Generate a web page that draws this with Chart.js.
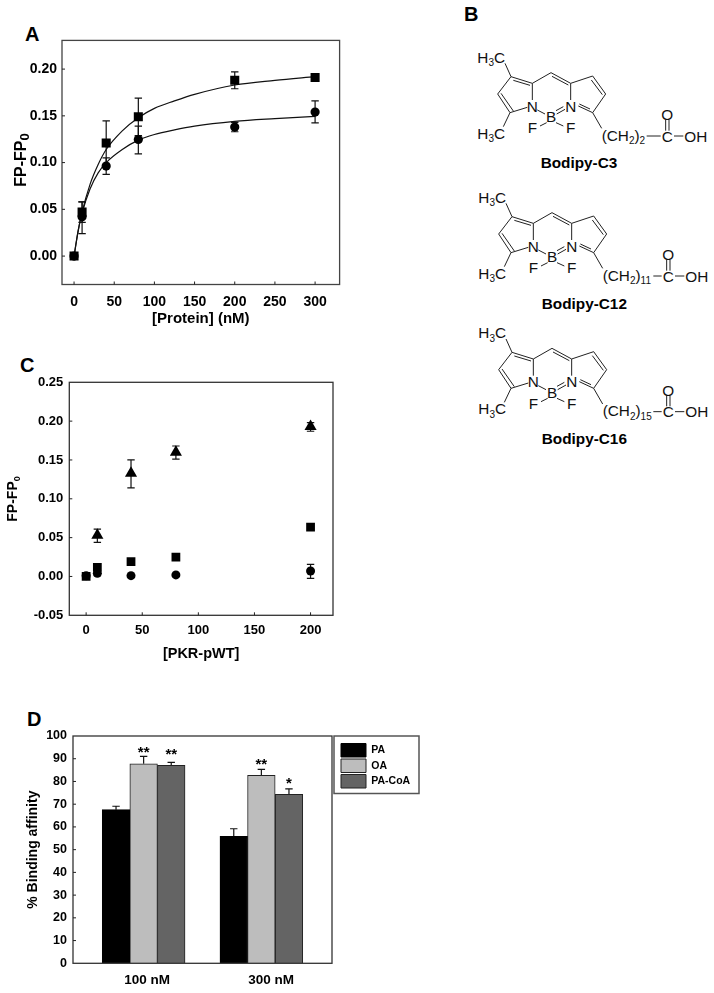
<!DOCTYPE html>
<html><head><meta charset="utf-8">
<script src="https://cdn.jsdelivr.net/npm/chart.js@4/dist/chart.umd.min.js"></script>
<style>
html,body{margin:0;padding:0;background:#fff;width:714px;height:993px;overflow:hidden}
canvas{position:absolute}
.letter{position:absolute;font:bold 20px "Liberation Sans",Arial,sans-serif;color:#000;line-height:20px}
svg{position:absolute;left:450px;top:0}
</style></head><body>
<div class="letter" style="left:25px;top:24px">A</div>
<div class="letter" style="left:464px;top:4px">B</div>
<div class="letter" style="left:20px;top:355px">C</div>
<div class="letter" style="left:27px;top:709px">D</div>
<canvas id="a" width="336" height="294" style="left:10px;top:34px"></canvas>
<canvas id="c" width="336" height="291" style="left:4px;top:372px"></canvas>
<canvas id="d" width="400" height="267" style="left:25px;top:726px"></canvas>
<svg id="mol" width="264" height="470" viewBox="0 0 792 1410"></svg>
<script>
// Panel A
const aX = [0, 10, 40, 80, 200, 300];
const aSquare = [0, 0.047, 0.121, 0.149, 0.188, 0.191];
const aSquareHi = [0, 0.058, 0.1446, 0.169, 0.197, 0.191];
const aSquareLo = [0, 0.036, 0.0975, 0.129, 0.179, 0.191];
const aCircle = [0, 0.042, 0.0963, 0.1247, 0.138, 0.154];
const aCircleHi = [0, 0.058, 0.105, 0.139, 0.143, 0.166];
const aCircleLo = [0, 0.024, 0.0874, 0.1094, 0.133, 0.1425];
const aCurveX = [0, 5, 10, 20, 30, 40, 60, 80, 100, 125, 150, 200, 250, 300];
const aCurveSquare = [0, 0.026, 0.047, 0.077, 0.098, 0.114, 0.134, 0.148, 0.158, 0.166, 0.173, 0.183, 0.188, 0.192];
const aCurveCircle = [0, 0.027, 0.046, 0.072, 0.089, 0.100, 0.114, 0.124, 0.130, 0.135, 0.139, 0.144, 0.147, 0.1495];
const aXTicks = [0, 50, 100, 150, 200, 250, 300];
const aYTicks = [0, 0.05, 0.10, 0.15, 0.20];
// Panel C
const cX = [0, 10, 40, 80, 200];
const cTriangleX = [10, 40, 80, 200];
const cTriangle = [0.053, 0.133, 0.160, 0.193];
const cTriangleHi = [0.061, 0.150, 0.168, 0.198];
const cTriangleLo = [0.044, 0.114, 0.151, 0.187];
const cSquare = [0, 0.0116, 0.019, 0.025, 0.0636];
const cCircle = [0.001, 0.004, 0.001, 0.002, 0.007];
const cCircleHi = [0.001, 0.007, 0.001, 0.002, 0.0155];
const cCircleLo = [0.001, 0.001, 0.001, 0.002, -0.0025];
const cXTicks = [0, 50, 100, 150, 200];
const cYTicks = [-0.05, 0, 0.05, 0.10, 0.15, 0.20, 0.25];
// Panel D
const dGroups = ['100 nM', '300 nM'];
const dPA = [67.6, 55.9];
const dPAHi = [69.1, 59.2];
const dOA = [87.8, 82.7];
const dOAHi = [91, 85.3];
const dCoA = [87.1, 74.3];
const dCoAHi = [88.4, 76.7];
const dOAStars = ['**', '**'];
const dCoAStars = ['**', '*'];
const dOAStarAt = [94.1, 89.1];
const dCoAStarAt = [93.5, 80.7];
const dYTicks = [0, 10, 20, 30, 40, 50, 60, 70, 80, 90, 100];

const FF = '"Liberation Sans",Arial,sans-serif';
const zip = (xs, ys) => xs.map((x, i) => ({x, y: ys[i]}));

const panelPlugin = {
  id: 'panel',
  beforeDatasetsDraw(chart) {
    const ctx = chart.ctx, y = chart.scales.y;
    ctx.save(); ctx.strokeStyle = '#111'; ctx.lineWidth = 1.2;
    chart.data.datasets.forEach((ds, i) => {
      if (!ds.errHi) return;
      chart.getDatasetMeta(i).data.forEach((el, j) => {
        const top = y.getPixelForValue(ds.errHi[j]);
        const bot = ds.errLo ? y.getPixelForValue(ds.errLo[j]) : el.y;
        ctx.beginPath();
        ctx.moveTo(el.x, top); ctx.lineTo(el.x, bot);
        ctx.moveTo(el.x - 3.7, top); ctx.lineTo(el.x + 3.7, top);
        if (ds.errLo) { ctx.moveTo(el.x - 3.7, bot); ctx.lineTo(el.x + 3.7, bot); }
        ctx.stroke();
      });
    });
    ctx.restore();
  },
  afterDatasetsDraw(chart, args, o) {
    const ctx = chart.ctx, a = chart.chartArea, {x, y} = chart.scales;
    ctx.save();
    ctx.strokeStyle = o.frame || '#444'; ctx.lineWidth = 1.3;
    ctx.strokeRect(a.left, a.top, a.right - a.left, a.bottom - a.top);
    ctx.strokeStyle = '#222'; ctx.lineWidth = 1; ctx.beginPath();
    y.ticks.forEach(t => { const p = y.getPixelForValue(t.value);
      if (p > a.top + 1 && p < a.bottom - 1) { ctx.moveTo(a.left, p); ctx.lineTo(a.left + 3, p); } });
    if (!o.noXTicks) x.ticks.forEach(t => { const p = x.getPixelForValue(t.value);
      ctx.moveTo(p, a.bottom); ctx.lineTo(p, a.bottom - 3); });
    ctx.stroke();
    // significance marks
    chart.data.datasets.forEach((ds, i) => {
      if (!ds.stars) return;
      ctx.fillStyle = '#000'; ctx.textAlign = 'center'; ctx.font = 'bold 15px ' + FF;
      chart.getDatasetMeta(i).data.forEach((el, j) => {
        ctx.fillText(ds.stars[j], el.x, y.getPixelForValue(ds.starAt[j]) + 8);
      });
    });
    // legend frame
    if (o.legendFrame) {
      const f = o.legendFrame;
      ctx.strokeStyle = '#555'; ctx.lineWidth = 1.5;
      ctx.strokeRect(a.right + f[0], a.top + f[1], f[2], f[3]);
    }
    // y axis title with a subscript
    if (o.yTitle) {
      const t = o.yTitle;
      ctx.translate(t.x, t.y); ctx.rotate(-Math.PI / 2);
      ctx.fillStyle = '#000'; ctx.textAlign = 'left'; ctx.textBaseline = 'alphabetic';
      ctx.font = `bold ${t.size}px ${FF}`;
      ctx.fillText(t.main, 0, 0);
      const w = ctx.measureText(t.main).width;
      ctx.font = `bold ${t.subSize}px ${FF}`;
      ctx.fillText(t.sub, w, t.drop);
    }
    ctx.restore();
  },
  afterLayout(chart, args, o) {
    if (o.legendAt && chart.legend) {
      const L = chart.legend;
      L.left = chart.chartArea.right + o.legendAt[0]; L.top = chart.chartArea.top + o.legendAt[1];
      L.right = L.left + L.width; L.bottom = L.top + L.height;
    }
  }
};

function fixed(ticks, fmt, size, dim, font, padding) {
  return {
    grid: {display: false, drawTicks: false},
    border: {display: false},
    ticks: {autoSkip: false, maxRotation: 0, color: '#000', padding, font: {family: FF, weight: 'bold', size: font},
      callback: fmt},
    afterBuildTicks(s) { s.ticks = ticks.map(v => ({value: v})); },
    afterFit(s) { s[dim] = size; s.paddingTop = s.paddingBottom = s.paddingLeft = s.paddingRight = 0; }
  };
}
function title(text, size) {
  return {display: true, text, color: '#000', padding: 0, font: {family: FF, weight: 'bold', size}};
}
const marker = (label, style, r, xs, ys, extra) => Object.assign({
  label, type: 'line', showLine: false, pointStyle: style, pointRadius: r, pointBorderWidth: 0,
  pointBackgroundColor: '#000', data: zip(xs, ys)}, extra || {});
const curve = (label, xs, ys) => ({label, type: 'line', pointRadius: 0, borderColor: '#111', borderWidth: 1.2,
  cubicInterpolationMode: 'monotone', data: zip(xs, ys)});
const base = {responsive: false, animation: false, devicePixelRatio: 1, events: []};
const off = {legend: {display: false}, tooltip: {enabled: false}};

new Chart(document.getElementById('a'), {
  type: 'line',
  data: {datasets: [
    marker('Squares', 'rect', 6.4, aX, aSquare, {errHi: aSquareHi, errLo: aSquareLo}),
    marker('Circles', 'circle', 4.6, aX, aCircle, {errHi: aCircleHi, errLo: aCircleLo}),
    curve('Squares fit', aCurveX, aCurveSquare),
    curve('Circles fit', aCurveX, aCurveCircle)
  ]},
  options: Object.assign({}, base, {
    layout: {padding: {top: 5.5, right: 5, left: 0, bottom: 0}},
    plugins: Object.assign({}, off, {panel: {frame: '#444',
      yTitle: {main: 'FP-FP', sub: '0', size: 16, subSize: 13, drop: 2.5, x: 16, y: 152.7}}}),
    scales: {
      x: Object.assign(fixed(aXTicks, v => String(v), 43.5, 'height', 14, 9), {type: 'linear', min: -15, max: 330.5,
        title: title('[Protein] (nM)', 15)}),
      y: Object.assign(fixed(aYTicks, v => v.toFixed(2), 52, 'width', 14, 5), {type: 'linear', min: -0.0304, max: 0.2307})
    }
  }),
  plugins: [panelPlugin]
});

new Chart(document.getElementById('c'), {
  type: 'line',
  data: {datasets: [
    marker('Squares', 'rect', 6.2, cX, cSquare),
    marker('Circles', 'circle', 4.5, cX, cCircle, {errHi: cCircleHi, errLo: cCircleLo}),
    marker('Triangles', 'triangle', 7, cTriangleX, cTriangle, {errHi: cTriangleHi, errLo: cTriangleLo})
  ]},
  options: Object.assign({}, base, {
    layout: {padding: {top: 10.3, right: 5, left: 0, bottom: 0}},
    plugins: Object.assign({}, off, {panel: {frame: '#333',
      yTitle: {main: 'FP-FP', sub: '0', size: 14, subSize: 9, drop: 3, x: 13.3, y: 149.7}}}),
    scales: {
      x: Object.assign(fixed(cXTicks, v => String(v), 47.7, 'height', 13, 7), {type: 'linear', min: -15, max: 220,
        title: title('[PKR-pWT]', 14.5)}),
      y: Object.assign(fixed(cYTicks, v => v.toFixed(2), 65.3, 'width', 13, 6), {type: 'linear', min: -0.05, max: 0.25})
    }
  }),
  plugins: [panelPlugin]
});

new Chart(document.getElementById('d'), {
  type: 'bar',
  data: {datasets: [
    {label: 'PA', data: zip([1, 2], dPA), backgroundColor: '#000', borderColor: '#000', borderWidth: 1, barThickness: 27.6, errHi: dPAHi},
    {label: 'OA', data: zip([1, 2], dOA), backgroundColor: '#bdbdbd', borderColor: '#222', borderWidth: 1, barThickness: 27.6, errHi: dOAHi, stars: dOAStars, starAt: dOAStarAt},
    {label: 'PA-CoA', data: zip([1, 2], dCoA), backgroundColor: '#646464', borderColor: '#222', borderWidth: 1, barThickness: 27.6, errHi: dCoAHi, stars: dCoAStars, starAt: dCoAStarAt}
  ]},
  options: Object.assign({}, base, {
    layout: {padding: {top: 10, right: 93, left: 0, bottom: 0}},
    plugins: {
      tooltip: {enabled: false},
      legend: {display: true, position: 'chartArea', align: 'start',
        labels: {boxWidth: 25, boxHeight: 13.5, padding: 2, color: '#000', font: {family: FF, weight: 'bold', size: 10.5}}},
      panel: {frame: '#333', noXTicks: true, legendAt: [7, 5.5], legendFrame: [2, 0, 85, 57.5]}
    },
    scales: {
      x: Object.assign(fixed([1.029, 2.083], (v, i) => dGroups[i], 29.7, 'height', 13.5, 9), {type: 'linear', min: 0.4, max: 2.6, offset: false}),
      y: Object.assign(fixed(dYTicks, v => String(v), 48, 'width', 12.5, 6), {type: 'linear', min: 0, max: 100,
        title: title('% Binding affinity', 14)})
    }
  }),
  plugins: [panelPlugin]
});

// Chemical structures (schematic panel B, drawn as SVG with real text)
const SUB = (t, d) => `<tspan dy="${d || 10}" font-size="30">${t}</tspan>`;
function bodipy(dx, dy, sub, end, name, nameX, nameY) {
  const L = (x1, y1, x2, y2) => `<line x1="${x1}" y1="${y1}" x2="${x2}" y2="${y2}"/>`;
  const bonds = [[165,190,183,230],[183,230,247,250],[190,241,240,256],[247,250,247,300],[232,322,180,338],[180,338,143,282],[190,333,153,280],
    [143,282,183,230],[180,338,160,380],[247,250,303,218],[303,218,362,250],[306,229,355,255],[362,250,362,300],[362,250,428,228],
    [428,228,467,282],[424,240,457,284],[467,282,428,338],[428,338,385,318],[420,327,388,312],[262,330,285,342],[320,342,345,328],[318,332,340,320],
    [290,368,270,378],[318,368,340,378],[428,338,455,385],[end,408,632,408],[672,408,700,408],[647,360,647,392],[657,360,657,392]];
  const t = (x, y, s, a) => `<text x="${x}" y="${y}" text-anchor="${a || 'middle'}">${s}</text>`;
  return `<g transform="translate(${dx},${dy})"><g stroke="#222" stroke-width="3" fill="none">${bonds.map(b => L(...b)).join('')}</g>
  <g font-family="Liberation Sans,Arial,sans-serif" font-size="46" fill="#111">
  ${t(82,188,`H${SUB(3)}<tspan dy="-10">C</tspan>`,'start')}${t(82,416,`H${SUB(3)}<tspan dy="-10">C</tspan>`,'start')}
  ${t(247,335,'N')}${t(362,335,'N')}${t(303,367,'B')}${t(247,400,'F')}${t(362,400,'F')}
  ${t(455,422,`(CH${SUB(2)}<tspan dy="-10">)</tspan>${SUB(sub)}`,'start')}
  ${t(652,360,'O')}${t(652,425,'C')}${t(703,425,'OH','start')}
  <text x="${nameX}" y="${nameY}" text-anchor="middle" font-weight="bold" font-size="46" fill="#000">${name}</text></g></g>`;
}
document.getElementById('mol').innerHTML =
  bodipy(0, 0, '2', 590, 'Bodipy-C3', 387, 505) +
  bodipy(3, 420, '11', 607, 'Bodipy-C12', 400, 508) +
  bodipy(3, 827, '15', 607, 'Bodipy-C16', 400, 506);
</script>
</body></html>
